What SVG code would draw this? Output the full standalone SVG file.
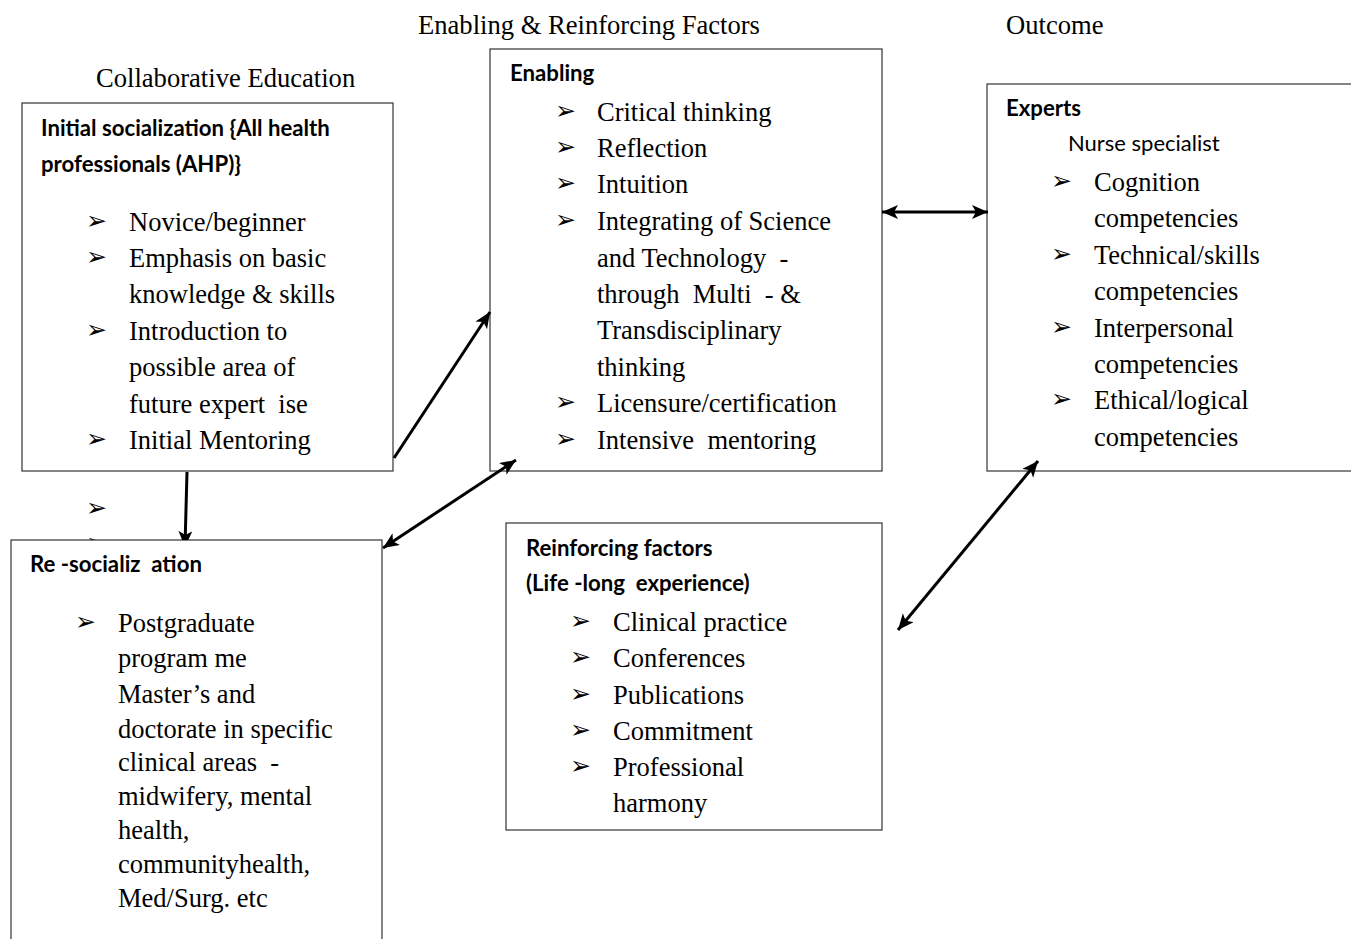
<svg xmlns="http://www.w3.org/2000/svg" width="1351" height="939" viewBox="0 0 1351 939">
  <style>
    .box { fill: #ffffff; stroke: #333333; stroke-width: 1.2; }
    .hd { font-family: "Liberation Serif", "Times New Roman", serif; font-size: 26.6px; fill: #000; }
    .t { font-family: "Liberation Serif", "Times New Roman", serif; font-size: 26.5px; fill: #000; white-space: pre; }
    .b { font-family: "Lato", "Liberation Sans", sans-serif; font-weight: bold; font-size: 22.2px; fill: #000; white-space: pre; }
    .s { font-family: "Lato", "Liberation Sans", sans-serif; font-size: 22px; fill: #000; }
    .blt { font-family: "DejaVu Sans", sans-serif; font-size: 25px; fill: #000; }
    .conn { stroke: #000; stroke-width: 3; fill: none; }
  </style>
  <defs>
    <marker id="head" markerUnits="userSpaceOnUse" markerWidth="17" markerHeight="15" refX="16" refY="7" orient="auto-start-reverse">
      <path d="M0,0 L16,7 L0,14 L4,7 z" fill="#000"/>
    </marker>
    <!-- keeps the tip of the drop arrow and the lower stray bullet above the box edge -->
    <clipPath id="aboveBox">
      <rect x="0" y="0" width="1351" height="540"/>
    </clipPath>
  </defs>

  <rect width="1351" height="939" fill="#ffffff"/>

  <!-- column headings -->
  <text class="hd" x="418" y="34">Enabling &amp; Reinforcing Factors</text>
  <text class="hd" x="1006" y="34">Outcome</text>
  <text class="hd" x="96" y="87">Collaborative Education</text>

  <!-- stray bullets between the first two boxes -->
  <text class="blt" x="86" y="516">➢</text>
  <text class="blt" x="86" y="551" clip-path="url(#aboveBox)">➢</text>

  <!-- Initial socialization -->
  <g id="initial">
    <rect class="box" x="22" y="103" width="371" height="368"/>
    <text class="b" x="41" y="136">Initial socialization {All health</text>
    <text class="b" x="41" y="172">professionals (AHP)}</text>
    <text class="blt" x="86" y="229">➢</text><text class="t" x="129" y="231">Novice/beginner</text>
    <text class="blt" x="86" y="265">➢</text><text class="t" x="129" y="267">Emphasis on basic</text>
    <text class="t" x="129" y="303">knowledge &amp; skills</text>
    <text class="blt" x="86" y="338">➢</text><text class="t" x="129" y="340">Introduction to</text>
    <text class="t" x="129" y="376">possible area of</text>
    <text class="t" x="129" y="413">future expert  ise</text>
    <text class="blt" x="86" y="447">➢</text><text class="t" x="129" y="449">Initial Mentoring</text>
  </g>

  <!-- Enabling -->
  <g id="enabling">
    <rect class="box" x="490" y="49" width="392" height="422"/>
    <text class="b" x="510" y="81">Enabling</text>
    <text class="blt" x="555" y="119">➢</text><text class="t" x="597" y="121">Critical thinking</text>
    <text class="blt" x="555" y="155">➢</text><text class="t" x="597" y="157">Reflection</text>
    <text class="blt" x="555" y="191">➢</text><text class="t" x="597" y="193">Intuition</text>
    <text class="blt" x="555" y="228">➢</text><text class="t" x="597" y="230">Integrating of Science</text>
    <text class="t" x="597" y="267">and Technology  -</text>
    <text class="t" x="597" y="303">through  Multi  - &amp;</text>
    <text class="t" x="597" y="339">Transdisciplinary</text>
    <text class="t" x="597" y="376">thinking</text>
    <text class="blt" x="555" y="410">➢</text><text class="t" x="597" y="412">Licensure/certification</text>
    <text class="blt" x="555" y="447">➢</text><text class="t" x="597" y="449">Intensive  mentoring</text>
  </g>

  <!-- Experts -->
  <g id="experts">
    <rect class="box" x="987" y="84" width="380" height="387"/>
    <text class="b" x="1006" y="116">Experts</text>
    <text class="s" x="1068" y="151">Nurse specialist</text>
    <text class="blt" x="1051" y="189">➢</text><text class="t" x="1094" y="191">Cognition</text>
    <text class="t" x="1094" y="227">competencies</text>
    <text class="blt" x="1051" y="262">➢</text><text class="t" x="1094" y="264">Technical/skills</text>
    <text class="t" x="1094" y="300">competencies</text>
    <text class="blt" x="1051" y="335">➢</text><text class="t" x="1094" y="337">Interpersonal</text>
    <text class="t" x="1094" y="373">competencies</text>
    <text class="blt" x="1051" y="407">➢</text><text class="t" x="1094" y="409">Ethical/logical</text>
    <text class="t" x="1094" y="446">competencies</text>
  </g>

  <!-- Reinforcing factors -->
  <g id="reinforcing">
    <rect class="box" x="506" y="523" width="376" height="307"/>
    <text class="b" x="526" y="556">Reinforcing factors</text>
    <text class="b" x="526" y="591">(Life -long  experience)</text>
    <text class="blt" x="570" y="629">➢</text><text class="t" x="613" y="631">Clinical practice</text>
    <text class="blt" x="570" y="665">➢</text><text class="t" x="613" y="667">Conferences</text>
    <text class="blt" x="570" y="702">➢</text><text class="t" x="613" y="704">Publications</text>
    <text class="blt" x="570" y="738">➢</text><text class="t" x="613" y="740">Commitment</text>
    <text class="blt" x="570" y="774">➢</text><text class="t" x="613" y="776">Professional</text>
    <text class="t" x="613" y="812">harmony</text>
  </g>

  <!-- Re-socialization -->
  <g id="resocialization">
    <rect class="box" x="11" y="540" width="371" height="420"/>
    <text class="b" x="30" y="572">Re -socializ  ation</text>
    <text class="blt" x="75" y="630">➢</text><text class="t" x="118" y="632">Postgraduate</text>
    <text class="t" x="118" y="667">program me</text>
    <text class="t" x="118" y="703">Master’s and</text>
    <text class="t" x="118" y="738">doctorate in specific</text>
    <text class="t" x="118" y="771">clinical areas  -</text>
    <text class="t" x="118" y="805">midwifery, mental</text>
    <text class="t" x="118" y="839">health,</text>
    <text class="t" x="118" y="873">communityhealth,</text>
    <text class="t" x="118" y="907">Med/Surg. etc</text>
  </g>

  <!-- connectors -->
  <g id="connectors">
    <line class="conn" x1="187" y1="472" x2="185" y2="547" marker-end="url(#head)" clip-path="url(#aboveBox)"/>
    <line class="conn" x1="394" y1="458" x2="490" y2="312" marker-end="url(#head)"/>
    <line class="conn" x1="383" y1="548" x2="516" y2="460" marker-start="url(#head)" marker-end="url(#head)"/>
    <line class="conn" x1="882" y1="212" x2="988" y2="212" marker-start="url(#head)" marker-end="url(#head)"/>
    <line class="conn" x1="898" y1="630" x2="1038" y2="461" marker-start="url(#head)" marker-end="url(#head)"/>
  </g>
</svg>
